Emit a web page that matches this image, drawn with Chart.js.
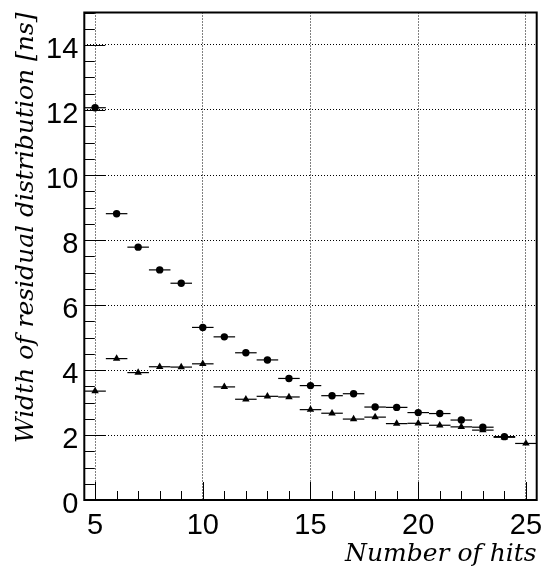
<!DOCTYPE html>
<html>
<head>
<meta charset="utf-8">
<script src="https://cdn.jsdelivr.net/npm/chart.js@4"></script>
<style>
    html, body { margin: 0; padding: 0; background: #fff; }
    canvas { display: block; }
</style>
</head>
<body>
<canvas id="myChart-residual-width" width="541" height="568"></canvas>
<script>
const hits = [5, 6, 7, 8, 9, 10, 11, 12, 13, 14, 15, 16, 17, 18, 19, 20, 21, 22, 23, 24, 25];
const widthCircles = [12.07, 8.81, 7.78, 7.08, 6.67, 5.31, 5.02, 4.53, 4.31, 3.74, 3.52, 3.21, 3.27, 2.86, 2.85, 2.69, 2.66, 2.46, 2.24, 1.95, null];
const widthTriangles = [3.35, 4.35, 3.92, 4.10, 4.09, 4.19, 3.48, 3.10, 3.19, 3.17, 2.78, 2.67, 2.49, 2.55, 2.35, 2.36, 2.30, 2.25, 2.15, 1.93, 1.74];
const binHalfWidth = 0.5;
const xTickLabels = [5, 10, 15, 20, 25];
const yTickLabels = [0, 2, 4, 6, 8, 10, 12, 14];
const xTitle = 'Number of hits';
const yTitle = 'Width of residual distribution [ns]';

const toPoints = (values) => hits
    .map((h, i) => ({ x: h, y: values[i] }))
    .filter(p => p.y !== null);

const titleFont = 'italic 25px "DejaVu Serif"';

const rootStylePlugin = {
    id: 'rootStyle',
    beforeDatasetsDraw: (chart) => {
        const ctx = chart.ctx;
        const xs = chart.scales.x;
        const ys = chart.scales.y;
        ctx.save();
        ctx.strokeStyle = '#000';
        ctx.lineWidth = 1.2;
        chart.data.datasets.forEach(ds => {
            ds.data.forEach(p => {
                const y = ys.getPixelForValue(p.y);
                ctx.beginPath();
                ctx.moveTo(xs.getPixelForValue(p.x - binHalfWidth), y);
                ctx.lineTo(xs.getPixelForValue(p.x + binHalfWidth), y);
                ctx.stroke();
            });
        });
        ctx.restore();
    },
    afterDraw: (chart) => {
        const ctx = chart.ctx;
        const area = chart.chartArea;
        const xs = chart.scales.x;
        const ys = chart.scales.y;
        ctx.save();
        ctx.strokeStyle = '#000';
        ctx.lineWidth = 1;

        // inward ticks on the left axis
        for (let v = 0; v <= 15; v += 0.5) {
            const y = Math.round(ys.getPixelForValue(v)) + 0.5;
            const len = v % 2 === 0 ? 21 : 10.5;
            ctx.beginPath();
            ctx.moveTo(area.left, y);
            ctx.lineTo(area.left + len, y);
            ctx.stroke();
        }
        // inward ticks on the bottom axis
        for (let v = 5; v <= 25; v += 1) {
            const x = Math.round(xs.getPixelForValue(v)) + 0.5;
            const len = v % 5 === 0 ? 18 : 9;
            ctx.beginPath();
            ctx.moveTo(x, area.bottom);
            ctx.lineTo(x, area.bottom - len);
            ctx.stroke();
        }

        ctx.lineWidth = 2;
        ctx.strokeRect(area.left, area.top, area.right - area.left, area.bottom - area.top);

        ctx.fillStyle = '#000';
        ctx.font = titleFont;
        ctx.textAlign = 'right';
        ctx.textBaseline = 'alphabetic';
        ctx.fillText(xTitle, area.right, 561);

        ctx.translate(33, area.top);
        ctx.rotate(-Math.PI / 2);
        ctx.fillText(yTitle, 0, 0);
        ctx.restore();
    }
};

const chartData = {
    datasets: [{
        label: 'circles',
        data: toPoints(widthCircles),
        pointStyle: 'circle',
        pointRadius: 3.7,
        backgroundColor: '#000',
        borderColor: '#000',
        borderWidth: 0,
        showLine: false
    }, {
        label: 'triangles',
        data: toPoints(widthTriangles),
        pointStyle: 'triangle',
        pointRadius: 4.3,
        backgroundColor: '#000',
        borderColor: '#000',
        borderWidth: 0,
        showLine: false
    }]
};

const config = {
    type: 'scatter',
    data: chartData,
    options: {
        responsive: false,
        animation: false,
        layout: {
            padding: { top: 12.5, right: 2.7, left: 0, bottom: 0 }
        },
        plugins: {
            legend: { display: false },
            tooltip: { enabled: false }
        },
        scales: {
            x: {
                type: 'linear',
                min: 4.5,
                max: 25.5,
                afterBuildTicks: (s) => { s.ticks = xTickLabels.map(v => ({ value: v })); },
                afterFit: (s) => { s.height = 68; s.paddingLeft = 0; s.paddingRight = 0; },
                ticks: {
                    color: '#000',
                    font: { family: '"Liberation Sans"', size: 29 },
                    padding: 9,
                    maxRotation: 0,
                    autoSkip: false
                },
                grid: { color: '#000', lineWidth: 1, drawTicks: false, tickLength: 0 },
                border: { display: false, dash: [1, 2] }
            },
            y: {
                type: 'linear',
                min: 0,
                max: 15,
                afterBuildTicks: (s) => { s.ticks = yTickLabels.map(v => ({ value: v })); },
                afterFit: (s) => { s.width = 84.3; s.paddingTop = 0; s.paddingBottom = 0; },
                ticks: {
                    color: '#000',
                    font: { family: '"Liberation Sans"', size: 29 },
                    padding: 6,
                    labelOffset: 4.5,
                    autoSkip: false
                },
                grid: { color: '#000', lineWidth: 1, drawTicks: false, tickLength: 0 },
                border: { display: false, dash: [1, 2] }
            }
        }
    },
    plugins: [rootStylePlugin]
};

const ctx = document.getElementById('myChart-residual-width').getContext('2d');
new Chart(ctx, config);
</script>
</body>
</html>
